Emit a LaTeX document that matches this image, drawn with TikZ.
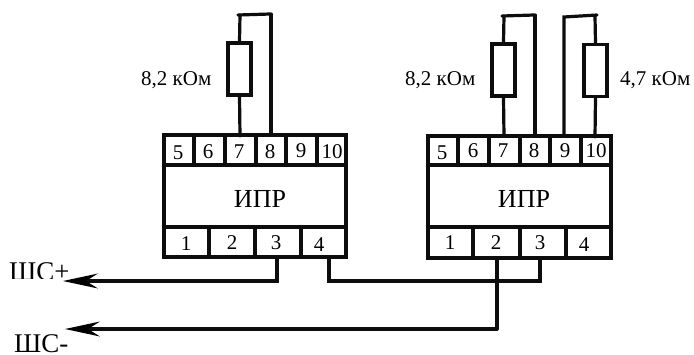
\documentclass[tikz,border=0pt]{standalone}
\usepackage{fontspec}
\setmainfont{Liberation Serif}
\usetikzlibrary{arrows.meta}
\tikzset{
  x=1pt,y=-1pt,
  wire/.style={line width=3.2pt,line cap=round,black!95},
  frame/.style={line width=3.2pt,line cap=round,black!95},
  cell/.style={font=\fontsize{21}{23}\selectfont,inner sep=0pt,anchor=base},
  rbox/.style={draw,line width=3.2pt,black!95,fill=white,inner sep=0pt,minimum width=23pt,minimum height=52pt},
  lab/.style={font=\fontsize{21}{23}\selectfont,inner sep=0pt,anchor=base west},
  title/.style={font=\fontsize{26}{28}\selectfont,inner sep=0pt,anchor=base},
  sig/.style={font=\fontsize{27}{29}\selectfont,inner sep=0pt,anchor=base west},
  tip/.style={-{Stealth[length=35pt,width=15pt,inset=12pt,line width=0pt,fill=black]}}
}
\begin{document}
\begin{tikzpicture}
\useasboundingbox (0,0) rectangle (694,354);
% left device
\draw[frame] (164,135) rectangle (346,257);
\draw[frame] (164,165) -- (346,165) (164,227) -- (346,227);
\draw[frame] (194,135)--(194,165) (225,135)--(225,165) (256,135)--(256,165) (286,135)--(286,165) (317,135)--(317,165);
\draw[frame] (209,227)--(209,257) (255,227)--(255,257) (301,227)--(301,257);
\node[cell] (la5) at (178,159) {5};
\node[cell] (la6) at (208,158) {6};
\node[cell] (la7) at (239,158) {7};
\node[cell] (la8) at (270,158) {8};
\node[cell] (la9) at (301,157) {9};
\node[cell] (la10) at (332,158) {10};
\node[title] (ltitle) at (260,207) {ИПР};
\node[cell] (lb1) at (186,250) {1};
\node[cell] (lb2) at (232,249) {2};
\node[cell] (lb3) at (276,249) {3};
\node[cell] (lb4) at (319,251) {4};
% right device
\draw[frame] (428,136) rectangle (611,258);
\draw[frame] (428,165) -- (611,165) (428,227) -- (611,227);
\draw[frame] (458,136)--(458,165) (489,136)--(489,165) (520,136)--(520,165) (550,136)--(550,165) (581,136)--(581,165);
\draw[frame] (473,227)--(473,258) (520,227)--(520,258) (566,227)--(566,258);
\node[cell] (ra5) at (442,159) {5};
\node[cell] (ra6) at (473,157) {6};
\node[cell] (ra7) at (503,157) {7};
\node[cell] (ra8) at (534,157) {8};
\node[cell] (ra9) at (565,157) {9};
\node[cell] (ra10) at (596,157) {10};
\node[title] (rtitle) at (524,207) {ИПР};
\node[cell] (rb1) at (450,249) {1};
\node[cell] (rb2) at (496,249) {2};
\node[cell] (rb3) at (540,249) {3};
\node[cell] (rb4) at (584,251) {4};
% anchors
\coordinate (t1a) at (240,136); \coordinate (t1b) at (271,135);
\coordinate (c1a) at (238,15); \coordinate (c1b) at (270,14);
\coordinate (t2a) at (504,136); \coordinate (t2b) at (535,136);
\coordinate (c2a) at (502,16); \coordinate (c2b) at (534,15);
\coordinate (t3a) at (564,136); \coordinate (t3b) at (595,137);
\coordinate (c3a) at (564,17); \coordinate (c3b) at (597,15);
\coordinate (p3) at (277,257); \coordinate (p3c) at (277,281);
\coordinate (p4) at (329,257); \coordinate (p4c) at (329,281);
\coordinate (q3) at (540,258); \coordinate (q3c) at (540,281);
\coordinate (q2) at (497,258); \coordinate (q2c) at (497,329);
\coordinate (endp) at (63,281); \coordinate (endm) at (65,329);
% resistors
\node[rbox] (r1) at (239.5,69) {};
\node[rbox] (r2) at (503.5,70) {};
\node[rbox] (r3) at (595.5,70.5) {};
\node[lab] (l1) at (141,85) {8,2 кОм};
\node[lab] (l2) at (405,85) {8,2 кОм};
\node[lab] (l3) at (620,85) {4,7 кОм};
% wires
\draw[wire] (t1a) -- (r1.south);
\draw[wire] (r1.north) -- (240,15);
\draw[wire] (c1a) -- (c1b);
\draw[wire] (t1b) -- (271,14);
\draw[wire] (t2a) -- (r2.south);
\draw[wire] (r2.north) -- (504,16);
\draw[wire] (c2a) -- (c2b);
\draw[wire] (t2b) -- (535,15);
\draw[wire] (t3a) -- (c3a) -- (c3b);
\draw[wire] (t3b) -- (r3.south);
\draw[wire] (r3.north) -- (595,16);
\draw[wire] (p4) -- (p4c) -- (q3c) -- (q3);
\draw[wire] (q2) -- (q2c);
\draw[wire,tip] (p3) -- (p3c) -- (endp);
\draw[wire,tip] (q2c) -- (endm);
% signal labels, their lower edge cut as in the drawing
\begin{scope}
\clip (0,255) rectangle (67,278.5);
\node[sig] (shp) at (9,280) {ШС+};
\end{scope}
\node[sig] (shm) at (14,352) {ШС-};
\end{tikzpicture}
\end{document}
